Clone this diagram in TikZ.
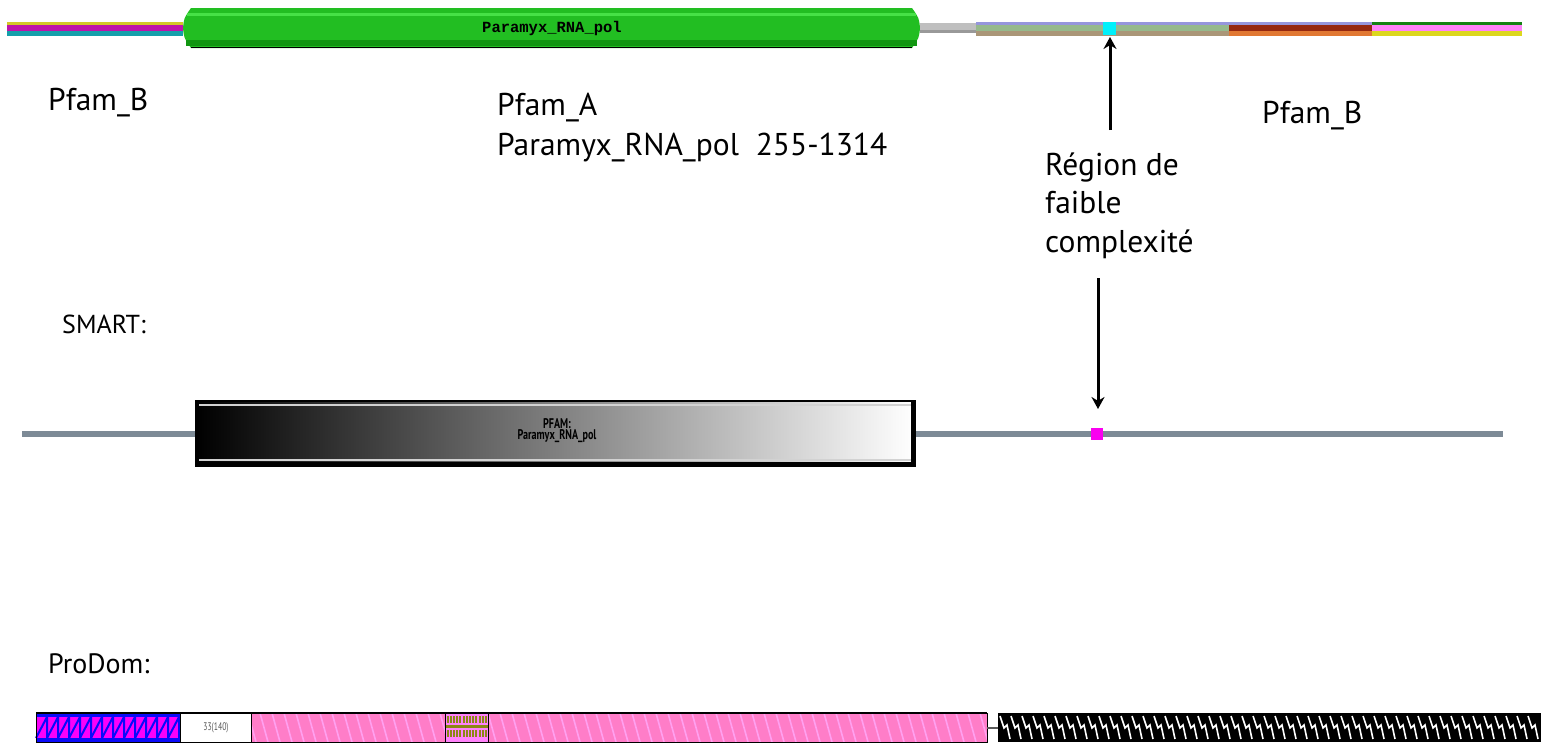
\documentclass[tikz,border=0pt]{standalone}
\usepackage{fontspec}
\setmainfont{PT Sans}
\newfontfamily\pixfont{Liberation Mono}
\usetikzlibrary{arrows.meta}
\definecolor{ylwA}{RGB}{210,200,40}
\definecolor{magA}{RGB}{190,20,170}
\definecolor{tealA}{RGB}{20,160,170}
\definecolor{grnA}{RGB}{34,190,34}
\definecolor{grnL}{RGB}{70,225,70}
\definecolor{grnD}{RGB}{17,150,17}
\definecolor{lavB}{RGB}{150,150,220}
\definecolor{sageB}{RGB}{150,185,140}
\definecolor{tanB}{RGB}{170,150,120}
\definecolor{redB}{RGB}{150,40,15}
\definecolor{orgB}{RGB}{225,120,50}
\definecolor{grnB}{RGB}{20,130,20}
\definecolor{pinkB}{RGB}{255,130,250}
\definecolor{ylwB}{RGB}{220,215,30}
\definecolor{cyanA}{RGB}{0,240,250}
\definecolor{lineS}{RGB}{125,138,150}
\definecolor{magS}{RGB}{250,0,240}
\definecolor{blueP}{RGB}{10,10,250}
\definecolor{magP}{RGB}{250,0,250}
\definecolor{pinkP}{RGB}{255,125,200}
\definecolor{strP}{RGB}{255,160,240}
\definecolor{olvP}{RGB}{140,135,20}
\tikzset{
  lbl/.style={anchor=base west, inner sep=0pt, font=\fontsize{31.5}{36}\selectfont},
  lblS/.style={anchor=base west, inner sep=0pt, font=\fontsize{26}{30}\selectfont},
  arr/.style={line width=3pt, -{Stealth[length=12pt,width=13pt]}},
  sq/.style={inner sep=0pt, draw=none},
}
\begin{document}
\begin{tikzpicture}[x=1pt,y=-1pt]
\useasboundingbox[fill=white] (0,0) rectangle (1543,744);

% ---------- Pfam row ----------
\fill[ylwA] (7,22) rectangle (183,25);
\fill[magA] (7,25) rectangle (183,31);
\fill[tealA] (7,31) rectangle (183,36);

\fill[grnA] (183,28) .. controls (184,18) .. (191,8) -- (912,8) .. controls (919,18) .. (920,28)
  .. controls (919,38) .. (912,48) -- (191,48) .. controls (184,38) .. (183,28) -- cycle;
\fill[grnL] (187,13) rectangle (916,16);
\fill[grnD] (186,40) rectangle (917,46);
\draw[black, line width=1.5pt] (191,47.5) -- (912,47.5);
\node[inner sep=0pt, font=\pixfont\bfseries\fontsize{15.5}{16}\selectfont] (pfamlbl) at (552,28) {Paramyx\_RNA\_pol};

\fill[gray!50] (920,23) rectangle (976,30);
\fill[gray!80] (920,30) rectangle (976,33);

\fill[lavB] (976,22) rectangle (1229,25);
\fill[sageB] (976,25) rectangle (1229,31);
\fill[tanB] (976,31) rectangle (1229,36);
\fill[lavB] (1229,22) rectangle (1372,25);
\fill[redB] (1229,25) rectangle (1372,31);
\fill[orgB] (1229,31) rectangle (1372,36);
\fill[grnB] (1372,22) rectangle (1522,25);
\fill[pinkB] (1372,25) rectangle (1522,31);
\fill[ylwB] (1372,31) rectangle (1522,36);
\node[sq, fill=cyanA, minimum width=13pt, minimum height=13pt] (lcrA) at (1109.5,28.5) {};

\node[lbl] (pfamB1) at (48,110) {Pfam\_B};
\node[lbl] (pfamA) at (497,115) {Pfam\_A};
\node[lbl] (pfamA2) at (497,155) {Paramyx\_RNA\_pol\ \ 255-1314};
\node[lbl] (pfamB2) at (1262,123) {Pfam\_B};

\coordinate (upStart) at (1110,130);
\draw[arr] (upStart) -- (1110,37);

\node[lbl] (lcr1) at (1045,175) {Région de};
\node[lbl] (lcr2) at (1045,213) {faible};
\node[lbl] (lcr3) at (1045,252) {complexité};

% ---------- SMART row ----------
\node[lblS] (smart) at (62,333) {SMART:};
\fill[lineS] (22,431) rectangle (1503,437);
\shade[left color=black, right color=white] (197,402) rectangle (914,465);
\draw[gray!35, line width=2pt] (199,405) -- (912,405);
\draw[gray!35, line width=2pt] (199,460) -- (912,460);
\fill[black] (196,462) rectangle (915,466);
\fill[black] (911,401) rectangle (915,466);
\draw[black, line width=1.5pt] (196,401) rectangle (915,466);
\node[inner sep=0pt, black, font=\bfseries\fontsize{14}{14}\selectfont, align=center] (smartlbl) at (557,431)
   {\scalebox{0.72}[1]{PFAM:}\\[-3pt]\scalebox{0.72}[1]{Paramyx\_RNA\_pol}};
\node[sq, fill=magS, minimum width=12pt, minimum height=12pt] (lcrS) at (1097,434) {};

\coordinate (dnStart) at (1098,278);
\draw[arr] (dnStart) -- (1098,409);

% ---------- ProDom row ----------
\node[lblS, font=\fontsize{28}{32}\selectfont] (prodom) at (48,673) {ProDom:};

% segment 1: blue/magenta
\fill[magP] (36,713) rectangle (180,742);
\fill[blueP] (36,713) rectangle (180,717);
\fill[blueP] (36,738) rectangle (180,742);
\foreach \i in {0,...,12}{
  \draw[blueP, line width=2pt] ({36+11*\i},738) -- ({36+11*(\i+1)},717) -- ({36+11*(\i+1)},738);
}
% segment 2: white
\fill[white] (180,713) rectangle (251,742);
\node[inner sep=0pt, gray!70!black, font=\fontsize{11}{11}\selectfont] (pd33) at (216,728) {\scalebox{0.7}[1]{33(140)}};
% pink striped segments
\fill[pinkP] (251,713) rectangle (987,742);
\begin{scope}
  \clip (251,713) rectangle (987,742);
  \foreach \i in {0,...,62}{
    \draw[strP, line width=1.6pt] ({248+12*\i},713) -- ({256+12*\i},742);
  }
\end{scope}
% olive segment
\fill[pinkB] (445,713) rectangle (488,742);
\foreach \i in {0,...,12}{
  \fill[olvP] ({446.5+3.2*\i},716) rectangle ({448.5+3.2*\i},723);
  \fill[olvP] ({446.5+3.2*\i},730) rectangle ({448.5+3.2*\i},737);
}
\fill[olvP] (445,725) rectangle (488,727.5);
% outlines
\draw[black, line width=1pt] (36,713) rectangle (987,742);
\draw[black, line width=2pt] (36,713) -- (987,713);
\foreach \xx in {180,251,445,488}{
  \draw[black, line width=1pt] (\xx,713) -- (\xx,742);
}
% connector
\draw[gray!70!black, line width=1.5pt] (987,728) -- (998,728);
% black zigzag segment
\fill[black] (998,713) rectangle (1541,742);
\foreach \i in {0,...,48}{
  \draw[white, line width=1.6pt] ({1000+11*\i},716) -- ({1004+11*\i},728) -- ({1007+11*\i},725) -- ({1010+11*\i},739);
}
\end{tikzpicture}
\end{document}
